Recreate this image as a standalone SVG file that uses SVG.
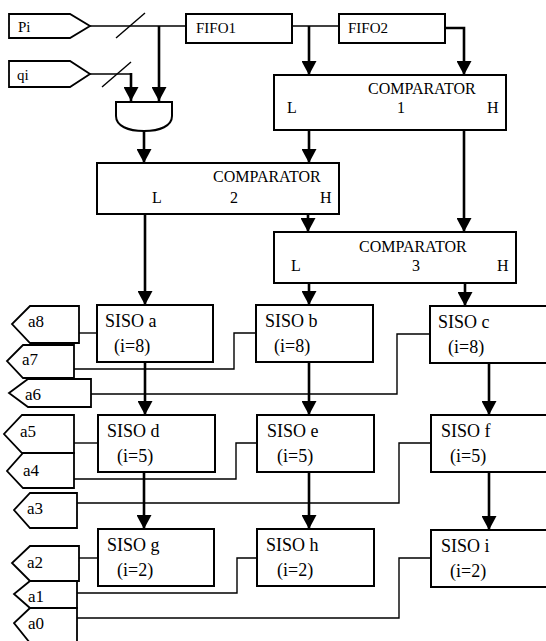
<svg xmlns="http://www.w3.org/2000/svg" width="546" height="641" viewBox="0 0 546 641" font-family="'Liberation Serif','Times New Roman','DejaVu Serif',serif">
<defs>
<style>
.box{fill:#fff;stroke:#000;stroke-width:2}
.pin{fill:#fff;stroke:#000;stroke-width:1.8}
.thin{fill:none;stroke:#000;stroke-width:1.4}
.thick{fill:none;stroke:#000;stroke-width:2.6}
text{font-family:'Liberation Serif','Times New Roman','DejaVu Serif',serif;fill:#000}
.f{font-size:15px}
.c{font-size:16px}
.s{font-size:18px}
.p{font-size:17px}
</style>
<marker id="arr" viewBox="0 0 14 15" refX="14" refY="7.5" markerWidth="14" markerHeight="15" markerUnits="userSpaceOnUse" orient="auto">
<path d="M0,0 L14,7.5 L0,15 Z" fill="#000"/>
</marker>
</defs>
<g id="connectors">
<path class="thin" d="M90,26 H186"/>
<path class="thin" d="M116,38 L145,13"/>
<path class="thin" d="M90,74 H131"/>
<path class="thin" d="M102,87 L131,62"/>
<path class="thick" d="M131,73 V101" marker-end="url(#arr)"/>
<path class="thick" d="M159,26 V101" marker-end="url(#arr)"/>
<path class="thin" d="M292,26 H339"/>
<path class="thick" d="M309,26 V75" marker-end="url(#arr)"/>
<path class="thick" d="M445,28 H464 V75" marker-end="url(#arr)"/>
<path class="thick" d="M309,130 V163" marker-end="url(#arr)"/>
<path class="thick" d="M464,130 V232" marker-end="url(#arr)"/>
<path class="thick" d="M144,131 V163" marker-end="url(#arr)"/>
<path class="thick" d="M145,214 V305" marker-end="url(#arr)"/>
<path class="thick" d="M308,214 V232" marker-end="url(#arr)"/>
<path class="thick" d="M309,283 V305" marker-end="url(#arr)"/>
<path class="thick" d="M465,283 V306" marker-end="url(#arr)"/>
<path class="thick" d="M145,362 V415" marker-end="url(#arr)"/>
<path class="thick" d="M309,362 V415" marker-end="url(#arr)"/>
<path class="thick" d="M489,363 V415" marker-end="url(#arr)"/>
<path class="thick" d="M144,472 V529" marker-end="url(#arr)"/>
<path class="thick" d="M309,472 V529" marker-end="url(#arr)"/>
<path class="thick" d="M489,472 V530" marker-end="url(#arr)"/>
<path class="thin" d="M79,333 H97"/>
<path class="thin" d="M74,369 H234 V333 H256"/>
<path class="thin" d="M91,394 H397 V334 H430"/>
<path class="thin" d="M74,443 H98"/>
<path class="thin" d="M74,479 H236 V443 H257"/>
<path class="thin" d="M77,503 H399 V443 H431"/>
<path class="thin" d="M79,558 H98"/>
<path class="thin" d="M77,593 H237 V558 H257"/>
<path class="thin" d="M77,618 H399 V558 H431"/>
</g>
<g id="Pi"><polygon class="pin" points="9,14 70,14 90,26 70,38 9,38"/><text class="f" x="18" y="32">Pi</text></g>
<g id="qi"><polygon class="pin" points="9,61 70,61 90,74 70,87 9,87"/><text class="f" x="17" y="80">qi</text></g>
<g id="gate"><path class="box" d="M116,102 H172 V116 C172,126 160,131 144,131 C128,131 116,126 116,116 Z"/></g>
<g id="FIFO1"><rect class="box" x="186" y="14" width="106" height="29"/><text class="f" x="196" y="33">FIFO1</text></g>
<g id="FIFO2"><rect class="box" x="339" y="14" width="106" height="29"/><text class="f" x="348" y="33">FIFO2</text></g>
<g id="comparator1"><rect class="box" x="274" y="75" width="232" height="55"/><text class="c" x="368" y="94">COMPARATOR</text><text class="c" x="287" y="113">L</text><text class="c" x="397" y="113">1</text><text class="c" x="487" y="113">H</text></g>
<g id="comparator2"><rect class="box" x="97" y="163" width="242" height="51"/><text class="c" x="213" y="182">COMPARATOR</text><text class="c" x="152" y="203">L</text><text class="c" x="230" y="203">2</text><text class="c" x="320" y="203">H</text></g>
<g id="comparator3"><rect class="box" x="274" y="232" width="242" height="51"/><text class="c" x="359" y="252">COMPARATOR</text><text class="c" x="291" y="271">L</text><text class="c" x="412" y="271">3</text><text class="c" x="497" y="271">H</text></g>
<g id="sisoA"><rect class="box" x="97" y="305" width="116" height="57"/><text class="s" x="105" y="327">SISO a</text><text class="s" x="114" y="352">(i=8)</text></g>
<g id="sisoB"><rect class="box" x="256" y="305" width="117" height="57"/><text class="s" x="265" y="327">SISO b</text><text class="s" x="274" y="352">(i=8)</text></g>
<g id="sisoC"><rect class="box" x="430" y="306" width="120" height="57"/><text class="s" x="438" y="328">SISO c</text><text class="s" x="448" y="353">(i=8)</text></g>
<g id="sisoD"><rect class="box" x="98" y="415" width="117" height="57"/><text class="s" x="107" y="437">SISO d</text><text class="s" x="117" y="462">(i=5)</text></g>
<g id="sisoE"><rect class="box" x="257" y="415" width="117" height="57"/><text class="s" x="267" y="437">SISO e</text><text class="s" x="277" y="462">(i=5)</text></g>
<g id="sisoF"><rect class="box" x="431" y="415" width="120" height="57"/><text class="s" x="441" y="437">SISO f</text><text class="s" x="450" y="462">(i=5)</text></g>
<g id="sisoG"><rect class="box" x="98" y="529" width="116" height="57"/><text class="s" x="107" y="551">SISO g</text><text class="s" x="117" y="576">(i=2)</text></g>
<g id="sisoH"><rect class="box" x="257" y="529" width="117" height="57"/><text class="s" x="266" y="551">SISO h</text><text class="s" x="277" y="576">(i=2)</text></g>
<g id="sisoI"><rect class="box" x="431" y="530" width="120" height="57"/><text class="s" x="441" y="552">SISO i</text><text class="s" x="450" y="577">(i=2)</text></g>
<g id="a8"><polygon class="pin" points="30,306 79,306 79,343 30,343 12,324"/><text class="p" x="28" y="327">a8</text></g>
<g id="a7"><polygon class="pin" points="23,345 74,345 74,378 23,378 7,361"/><text class="p" x="22" y="365">a7</text></g>
<g id="a6"><polygon class="pin" points="28,379 91,379 91,407 28,407 9,393"/><text class="p" x="25" y="400">a6</text></g>
<g id="a5"><polygon class="pin" points="22,415 74,415 74,453 22,453 4,434"/><text class="p" x="20" y="437">a5</text></g>
<g id="a4"><polygon class="pin" points="23,453 74,453 74,488 23,488 7,471"/><text class="p" x="23" y="476">a4</text></g>
<g id="a3"><polygon class="pin" points="30,493 77,493 77,528 30,528 14,510"/><text class="p" x="27" y="514">a3</text></g>
<g id="a2"><polygon class="pin" points="30,546 79,546 79,581 30,581 12,563"/><text class="p" x="27" y="568">a2</text></g>
<g id="a1"><polygon class="pin" points="30,581 77,581 77,608 30,608 14,594"/><text class="p" x="28" y="602">a1</text></g>
<g id="a0"><polygon class="pin" points="30,608 77,608 77,643 30,643 14,623"/><text class="p" x="28" y="629">a0</text></g>
</svg>
